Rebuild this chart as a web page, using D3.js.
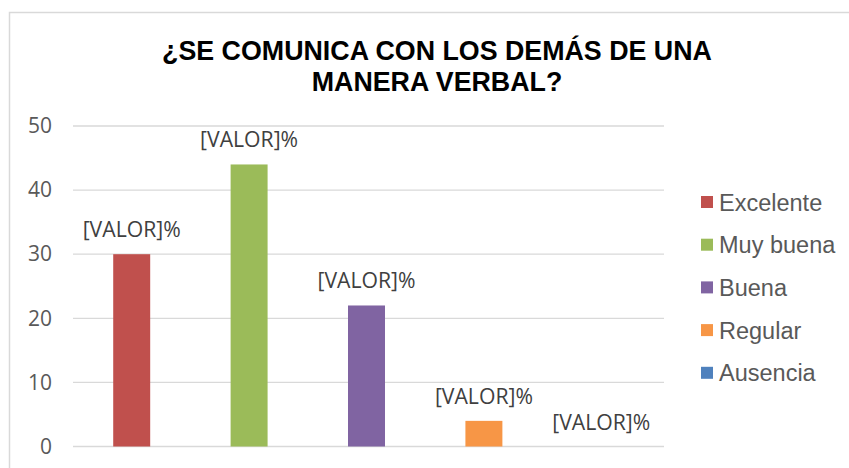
<!DOCTYPE html>
<html>
<head>
<meta charset="utf-8">
<script src="https://cdn.jsdelivr.net/npm/d3@7"></script>
<style>
  body { margin: 0; background: #fff; }
  svg { display: block; }
</style>
</head>
<body>
<div class="chart-area"></div>
<script>
// data
let categories = ["Excelente", "Muy buena", "Buena", "Regular", "Ausencia"];
let values = [30, 44, 22, 4, 0];
let colors = ["#C0504D", "#9BBB59", "#8064A2", "#F79646", "#4F81BD"];
let yTicks = [0, 10, 20, 30, 40, 50];
let titleLines = ["¿SE COMUNICA CON LOS DEMÁS DE UNA", "MANERA VERBAL?"];
let labelText = "[VALOR]%";

let width = 849,
  height = 468;

let svg = d3.select("div.chart-area").append("svg")
  .attr("width", width)
  .attr("height", height);

// chart border (runs off the right/bottom edge like in the picture)
svg.append("rect")
  .attr("x", 9.5)
  .attr("y", 12.5)
  .attr("width", 900)
  .attr("height", 500)
  .attr("fill", "none")
  .attr("stroke", "#d9d9d9")
  .attr("stroke-width", 1.5);

let x = d3.scaleBand()
  .domain(categories)
  .range([73, 660])
  .padding(0);

let y = d3.scaleLinear()
  .domain([0, 50])
  .range([446.5, 126]);

let barWidth = x.bandwidth() * 0.315;

// gridlines
svg.append("g")
  .selectAll("line")
  .data(yTicks)
  .enter().append("line")
  .attr("x1", 73)
  .attr("x2", 664)
  .attr("y1", function(d) { return y(d); })
  .attr("y2", function(d) { return y(d); })
  .attr("stroke", "#d9d9d9")
  .attr("stroke-width", 1.3);

// y axis labels
let yAxis = d3.axisLeft(y)
  .tickValues(yTicks)
  .tickSize(0)
  .tickPadding(0);

let axisG = svg.append("g")
  .attr("transform", "translate(52,0)")
  .call(yAxis);
axisG.select(".domain").remove();
axisG.selectAll("text")
  .attr("fill", "#595959")
  .style("font-family", "'Open Sans', sans-serif")
  .style("font-size", "21px");

// bars
svg.append("g")
  .selectAll("rect")
  .data(values)
  .enter().append("rect")
  .attr("x", function(d, i) { return x(categories[i]) + x.bandwidth() / 2 - barWidth / 2; })
  .attr("y", function(d) { return y(d); })
  .attr("width", barWidth)
  .attr("height", function(d) { return y(0) - y(d); })
  .attr("fill", function(d, i) { return colors[i]; });

// data labels
svg.append("g")
  .selectAll("text")
  .data(values)
  .enter().append("text")
  .attr("x", function(d, i) { return x(categories[i]) + x.bandwidth() / 2; })
  .attr("y", function(d) { return y(d) - 17; })
  .attr("text-anchor", "middle")
  .attr("fill", "#404040")
  .style("font-family", "'Open Sans', sans-serif")
  .style("font-size", "21.2px")
  .text(labelText);

// title
svg.append("text")
  .attr("x", 437)
  .attr("y", 60)
  .attr("text-anchor", "middle")
  .attr("fill", "#000")
  .style("font-family", "'Liberation Sans', Arial, sans-serif")
  .style("font-weight", "bold")
  .style("font-size", "26.8px")
  .selectAll("tspan")
  .data(titleLines)
  .enter().append("tspan")
  .attr("x", 437)
  .attr("dy", function(d, i) { return i ? 31 : 0; })
  .text(function(d) { return d; });

// legend
let legend = svg.append("g")
  .selectAll("g")
  .data(categories)
  .enter().append("g")
  .attr("transform", function(d, i) { return "translate(701," + (202 + i * 42.7) + ")"; });

legend.append("rect")
  .attr("x", 0)
  .attr("y", -6)
  .attr("width", 12)
  .attr("height", 12)
  .attr("fill", function(d, i) { return colors[i]; });

legend.append("text")
  .attr("x", 18)
  .attr("y", 8.5)
  .attr("fill", "#595959")
  .style("font-family", "'Liberation Sans', Arial, sans-serif")
  .style("font-size", "23.5px")
  .text(function(d) { return d; });
</script>
</body>
</html>
